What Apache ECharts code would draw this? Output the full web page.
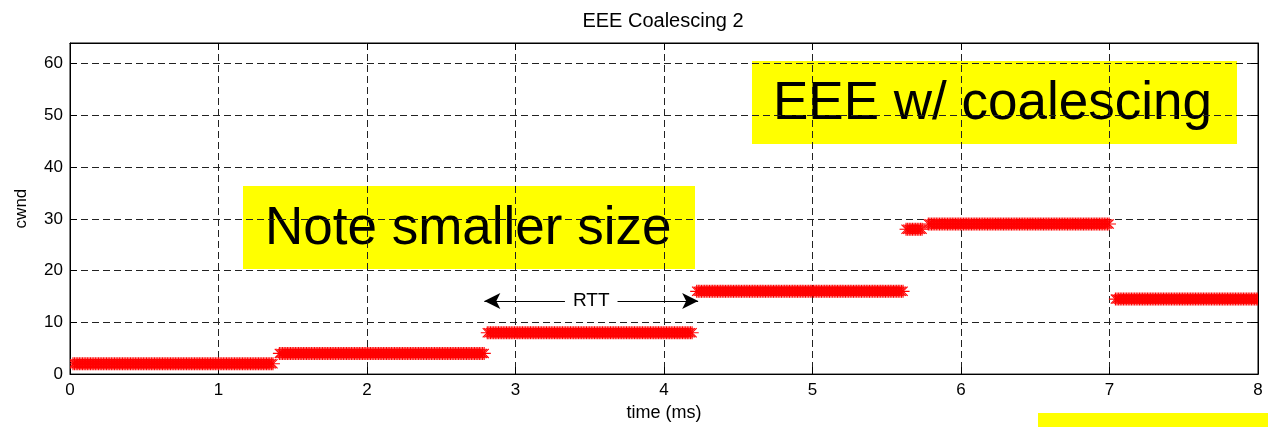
<!DOCTYPE html>
<html>
<head>
<meta charset="utf-8">
<title>EEE Coalescing 2</title>
<script src="https://cdn.jsdelivr.net/npm/echarts@6/dist/echarts.min.js"></script>
<style>
  html, body { margin: 0; padding: 0; background: #fff; }
  #chart { width: 1268px; height: 427px; }
</style>
</head>
<body>
<div id="chart"></div>
<script>
// cwnd trace: each run of packets is a segment with a start time, end time (ms) and a window size
const segStart = [0.02, 1.41, 2.81, 4.22, 5.63, 5.78, 7.04];
const segEnd   = [1.37, 2.79, 4.19, 5.61, 5.74, 7.00, 8.05];
const segCwnd  = [2, 4, 8, 16, 28, 29, 14.5];

const xTicks = [0, 1, 2, 3, 4, 5, 6, 7, 8];
const yTicks = [0, 10, 20, 30, 40, 50, 60];

// RTT marker spans one round trip between two window doublings
const rttFrom = [2.79, 14.15];
const rttTo   = [4.23, 14.15];
const rttMid  = [3.51, 14.15];

const FONT = '"Liberation Sans", Arial, Helvetica, sans-serif';

const segData = segStart.map((s, i) => [s, segEnd[i], segCwnd[i]]);

// Draw a run of '*' markers packed along one segment
function renderStars(params, api) {
  const y = api.value(2);
  const p0 = api.coord([api.value(0), y]);
  const p1 = api.coord([api.value(1), y]);
  const r = 6.5, d = r * 0.7071, pitch = 1.6;
  const style = { stroke: '#ff0000', lineWidth: 1.1, fill: null };
  const cy = p0[1];
  const children = [{
    type: 'line',
    shape: { x1: p0[0] - r, y1: cy, x2: p1[0] + r, y2: cy },
    style: style
  }];
  for (let x = p0[0]; x <= p1[0] + 0.01; x += pitch) {
    children.push({ type: 'line', shape: { x1: x, y1: cy - r, x2: x, y2: cy + r }, style: style });
    children.push({ type: 'line', shape: { x1: x - d, y1: cy - d, x2: x + d, y2: cy + d }, style: style });
    children.push({ type: 'line', shape: { x1: x - d, y1: cy + d, x2: x + d, y2: cy - d }, style: style });
  }
  return { type: 'group', children: children };
}

const chart = echarts.init(document.getElementById('chart'), null, { renderer: 'canvas' });

const gridLine = { show: true, lineStyle: { color: '#222', width: 1, type: [7, 4] } };
const axisText = { color: '#000', fontSize: 17, fontFamily: FONT };
const edgeLine = { show: true, onZero: false, lineStyle: { color: '#000', width: 1 } };
const edgeTick = { show: true, inside: true, length: 7, lineStyle: { color: '#000' } };

const option = {
  animation: false,
  backgroundColor: '#fff',
  title: {
    text: 'EEE Coalescing 2',
    left: 658,
    textAlign: 'center',
    top: 6,
    textStyle: { color: '#000', fontSize: 20, fontWeight: 'normal', fontFamily: FONT }
  },
  grid: {
    left: 70, right: 10, top: 43, bottom: 52,
    show: true, borderColor: '#000', borderWidth: 1, backgroundColor: '#fff'
  },
  xAxis: [{
    type: 'value', min: xTicks[0], max: xTicks[xTicks.length - 1], interval: 1,
    name: 'time (ms)', nameLocation: 'middle', nameGap: 28,
    nameTextStyle: { color: '#000', fontSize: 18, fontFamily: FONT },
    axisLine: edgeLine,
    axisTick: edgeTick,
    axisLabel: Object.assign({ margin: 8 }, axisText),
    splitLine: gridLine
  }, {
    type: 'value', position: 'top', min: xTicks[0], max: xTicks[xTicks.length - 1], interval: 1,
    axisLine: edgeLine,
    axisTick: edgeTick,
    axisLabel: { show: false }, splitLine: { show: false }
  }],
  yAxis: [{
    type: 'value', min: yTicks[0], max: 64, interval: 10,
    name: 'cwnd', nameLocation: 'middle', nameGap: 40, nameRotate: 90,
    nameTextStyle: { color: '#000', fontSize: 17, fontFamily: FONT },
    axisLine: edgeLine,
    axisTick: edgeTick,
    axisLabel: Object.assign({ margin: 7, showMaxLabel: false }, axisText),
    splitLine: gridLine
  }, {
    type: 'value', position: 'right', min: yTicks[0], max: 64, interval: 10,
    axisLine: edgeLine,
    axisTick: edgeTick,
    axisLabel: { show: false }, splitLine: { show: false }
  }],
  series: [{
    type: 'custom',
    name: 'cwnd',
    xAxisIndex: 0, yAxisIndex: 0,
    clip: true,
    renderItem: renderStars,
    encode: { x: [0, 1], y: 2 },
    data: segData,
    z: 3
  }, {
    type: 'line',
    xAxisIndex: 0, yAxisIndex: 0,
    data: [],
    silent: true,
    markLine: {
      silent: true,
      symbol: ['arrow', 'arrow'],
      symbolSize: [12, 16],
      lineStyle: { color: '#000', width: 1, type: 'solid' },
      label: { show: false },
      data: [[{ coord: rttFrom }, { coord: rttTo }]]
    },
    markPoint: {
      silent: true,
      symbol: 'rect',
      symbolSize: [1, 1],
      itemStyle: { color: 'rgba(0,0,0,0)' },
      label: {
        show: true, position: 'inside', formatter: 'RTT',
        color: '#000', fontSize: 19, fontFamily: FONT,
        backgroundColor: '#fff', padding: [1, 8]
      },
      data: [{ coord: rttMid }]
    }
  }],
  graphic: [
    {
      type: 'group', z: 100,
      children: [
        { type: 'rect', shape: { x: 752, y: 61, width: 485, height: 83 }, style: { fill: '#ffff00' } },
        { type: 'text', x: 773, y: 104,
          style: { text: 'EEE w/ coalescing', font: '53px ' + FONT, fill: '#000', verticalAlign: 'middle' } }
      ]
    },
    {
      type: 'group', z: 100,
      children: [
        { type: 'rect', shape: { x: 243, y: 186, width: 452, height: 83 }, style: { fill: '#ffff00' } },
        { type: 'text', x: 265, y: 229,
          style: { text: 'Note smaller size', font: '53px ' + FONT, fill: '#000', verticalAlign: 'middle' } }
      ]
    },
    { type: 'rect', z: 100, shape: { x: 1038, y: 413, width: 230, height: 14 }, style: { fill: '#ffff00' } }
  ]
};

chart.setOption(option);
</script>
</body>
</html>
